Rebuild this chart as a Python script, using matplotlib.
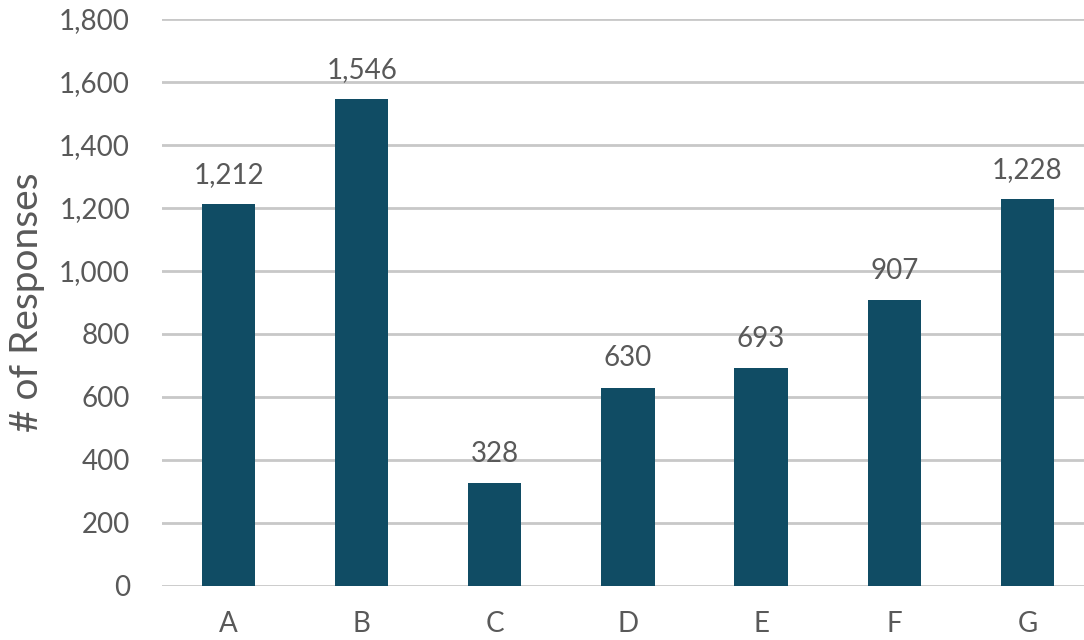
import matplotlib

matplotlib.use("Agg")
import matplotlib.pyplot as plt
from matplotlib.ticker import FuncFormatter

categories = ["A", "B", "C", "D", "E", "F", "G"]
responses = [1212, 1546, 328, 630, 693, 907, 1228]
y_ticks = [0, 200, 400, 600, 800, 1000, 1200, 1400, 1600, 1800]

BAR = "#104c64"
TEXT = "#595959"
GRID = "#c8c8c8"

plt.rcParams["font.family"] = ["Lato", "DejaVu Sans"]

fig = plt.figure(figsize=(10.84, 6.4), dpi=100)
ax = fig.add_axes([0.1494, 0.0844, 0.8598, 0.8859])

x = range(len(categories))
bars = ax.bar(x, responses, width=0.4, color=BAR, zorder=3)

for rect, v in zip(bars, responses):
    ax.annotate(f"{v:,}", (rect.get_x() + rect.get_width() / 2, v),
                xytext=(0, 21), textcoords="offset points",
                ha="center", va="center", fontsize=20, color=TEXT)

ax.set_xlim(-0.5, len(categories) - 0.5)
ax.set_ylim(0, 1800)
ax.set_yticks(y_ticks)
ax.yaxis.set_major_formatter(FuncFormatter(lambda v, _: f"{int(v):,}"))
ax.set_xticks(list(x))
ax.set_xticklabels(categories)

ax.grid(axis="y", color=GRID, linewidth=2, zorder=0)
ax.tick_params(axis="both", length=0, labelsize=20, colors=TEXT)
ax.tick_params(axis="y", pad=23)
ax.tick_params(axis="x", pad=18)
for side in ["top", "right", "left", "bottom"]:
    ax.spines[side].set_visible(False)

ax.set_ylabel("# of Responses", fontsize=28, color=TEXT, labelpad=10)

fig.savefig("out.png", dpi=100)
